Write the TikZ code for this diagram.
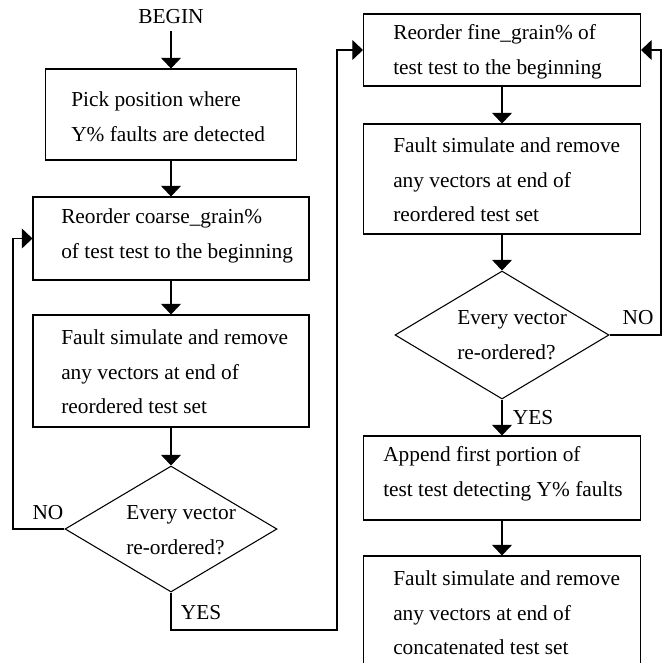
\documentclass[tikz,border=0pt]{standalone}
\usepackage{fontspec}
\setmainfont{Liberation Serif}
\usetikzlibrary{arrows.meta,shapes.geometric}

\begin{document}
\begin{tikzpicture}[x=0.75pt, y=-0.75pt,
        every node/.style={font=\fontsize{16}{26}\selectfont},
        stepbox/.style={draw, line width=0.8pt, inner sep=0pt},
        choice/.style={draw, diamond, line width=0.8pt, inner sep=0pt},
        txt/.style={anchor=west, align=left, inner sep=0pt},
        arr/.style={line width=0.8pt, -{Triangle[width=15pt,length=8pt]}}]
        \path[use as bounding box, clip] (0, 0) rectangle (667, 662);

        % left column
        \node[inner sep=5pt] (begin) at (171, 17) {BEGIN};
        \node[stepbox, minimum width=188.25pt, minimum height=68.25pt] (b1) at (171, 114.5) {};
        \node[stepbox, minimum width=207pt, minimum height=62.25pt] (b2) at (171, 238.5) {};
        \node[stepbox, minimum width=207pt, minimum height=84pt] (b3) at (171, 371) {};
        \node[choice, minimum width=159pt, minimum height=94.5pt] (dia1) at (171, 529) {};

        \node[txt] (b1txt) at (71, 117) {Pick position where\\Y\% faults are detected};
        \node[txt] (b2txt) at (61, 236) {Reorder coarse\_grain\%\\of test test to the beginning};
        \node[txt] (b3txt) at (61, 372) {Fault simulate and remove\\any vectors at end of\\reordered test set};
        \node[txt] (dia1txt) at (126, 530) {Every vector\\re-ordered?};

        % right column
        \node[stepbox, minimum width=207.75pt, minimum height=54pt] (b4) at (502, 50) {};
        \node[stepbox, minimum width=207.75pt, minimum height=82.5pt] (b5) at (502, 179) {};
        \node[choice, minimum width=160.5pt, minimum height=96pt] (dia2) at (502, 335) {};
        \node[stepbox, minimum width=207.75pt, minimum height=63pt] (b6) at (502, 478) {};
        \node[stepbox, minimum width=207.75pt, minimum height=85.5pt] (b7) at (502, 613) {};

        \node[txt] (b4txt) at (393, 52) {Reorder fine\_grain\% of\\test test to the beginning};
        \node[txt] (b5txt) at (393, 180) {Fault simulate and remove\\any vectors at end of\\reordered test set};
        \node[txt] (dia2txt) at (457, 335) {Every vector\\re-ordered?};
        \node[txt] (b6txt) at (383, 474) {Append first portion of\\test test detecting Y\% faults};
        \node[txt] (b7txt) at (393, 613) {Fault simulate and remove\\any vectors at end of\\concatenated test set};

        \node (no1) at (48, 513) {NO};
        \node (yes1) at (201, 613) {YES};
        \node (no2) at (638, 318) {NO};
        \node (yes2) at (533, 418) {YES};

        \coordinate (noleft) at (13, 529);
        \coordinate (yesturn) at (337, 630);
        \coordinate (noright) at (661, 335);

        \draw[arr] (begin) -- (b1);
        \draw[arr] (b1) -- (b2);
        \draw[arr] (b2) -- (b3);
        \draw[arr] (b3) -- (dia1);
        \draw[arr] (dia1.west) -- (noleft) |- (b2.west);
        \draw[arr] (dia1.south) |- (yesturn) |- (b4.west);

        \draw[arr] (b4) -- (b5);
        \draw[arr] (b5) -- (dia2);
        \draw[arr] (dia2) -- (b6);
        \draw[arr] (b6) -- (b7);
        \draw[arr] (dia2.east) -- (noright) |- (b4.east);
    \end{tikzpicture}
\end{document}
